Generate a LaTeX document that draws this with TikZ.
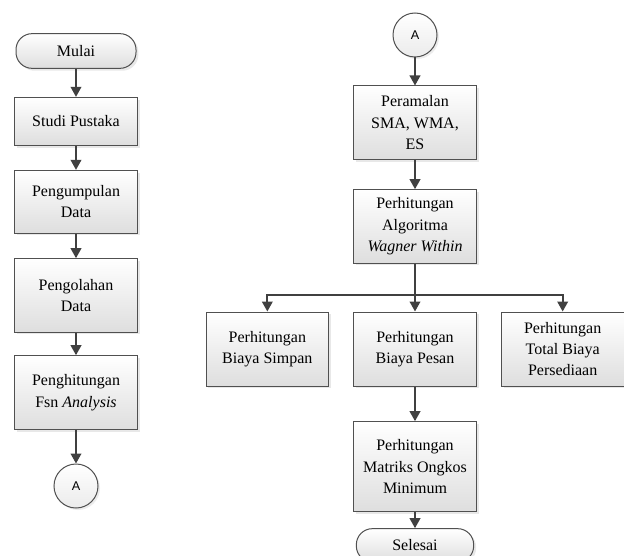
\documentclass[tikz,border=0pt]{standalone}
\usepackage{fontspec}
\setmainfont{Liberation Serif}
\setsansfont{Liberation Sans}
\usepackage{tikz}
\usetikzlibrary{arrows.meta, positioning, calc, shadows}
\definecolor{lineGray}{RGB}{64,64,64}
\definecolor{boxGray}{RGB}{80,80,80}
\definecolor{shadeGray}{RGB}{222,222,222}
\tikzset{
    % Process boxes
    procbox/.style={rectangle, draw=boxGray, line width=0.75pt, top color=white, bottom color=shadeGray,
                    drop shadow={shadow xshift=1.8pt, shadow yshift=-1.8pt, opacity=0.18},
                    minimum width=92pt, font=\fontsize{12}{16}\selectfont, align=center, inner sep=2pt},
    % Start / end terminators
    termbox/.style={rectangle, rounded corners=12pt, draw=boxGray, line width=0.75pt, top color=white, bottom color=shadeGray,
                    drop shadow={shadow xshift=1.8pt, shadow yshift=-1.8pt, opacity=0.18},
                    minimum width=90pt, minimum height=26pt, font=\fontsize{12}{16}\selectfont, align=center},
    % Off-page connectors
    connector/.style={circle, draw=boxGray, line width=0.75pt, top color=white, bottom color=shadeGray!60,
                      drop shadow={shadow xshift=1.5pt, shadow yshift=-1.5pt, opacity=0.15},
                      minimum size=33pt, inner sep=0pt, font=\sffamily\fontsize{9.5}{10}\selectfont},
    % Arrow style
    flowarrow/.style={-{Triangle[length=7.5pt, width=8pt]}, line width=1.3pt, color=lineGray},
}

\begin{document}
\begin{tikzpicture}[x=0.75pt, y=-0.75pt]
\useasboundingbox (0,0) rectangle (624,556);

% ============================================================
% Left column
% ============================================================
\node[termbox] (mulai) at (76,51) {Mulai};
\node[procbox, below=21pt of mulai, minimum height=36pt] (studi) {Studi Pustaka};
\node[procbox, below=18pt of studi, minimum height=47pt] (kumpul) {Pengumpulan\\Data};
\node[procbox, below=18.5pt of kumpul, minimum height=55pt] (olah) {Pengolahan\\Data};
\node[procbox, below=17pt of olah, minimum height=55.5pt] (hitung) {Penghitungan\\Fsn \textit{Analysis}};
\node[connector, below=25pt of hitung] (conA) {A};

\draw[flowarrow] (mulai) -- (studi);
\draw[flowarrow] (studi) -- (kumpul);
\draw[flowarrow] (kumpul) -- (olah);
\draw[flowarrow] (olah) -- (hitung);
\draw[flowarrow] (hitung) -- (conA);

% ============================================================
% Right column
% ============================================================
\node[connector] (conB) at (415,35) {A};
\node[procbox, below=21pt of conB, minimum height=55pt] (ramal) {Peramalan\\SMA, WMA,\\ES};
\node[procbox, below=22pt of ramal, minimum height=55pt] (algo) {Perhitungan\\Algoritma\\\textit{Wagner Within}};

% Three calculation boxes
\node[procbox, below=36pt of algo, minimum height=55.5pt] (pesan) {Perhitungan\\Biaya Pesan};
\node[procbox, left=18pt of pesan, minimum height=55.5pt] (simpan) {Perhitungan\\Biaya Simpan};
\node[procbox, right=18pt of pesan, minimum height=55.5pt] (total) {Perhitungan\\Total Biaya\\Persediaan};

\node[procbox, below=26pt of pesan, minimum height=67.5pt] (matriks) {Perhitungan\\Matriks Ongkos\\Minimum};
\node[termbox, below=12pt of matriks, minimum width=88pt, minimum height=25pt] (selesai) {Selesai};

\draw[flowarrow] (conB) -- (ramal);
\draw[flowarrow] (ramal) -- (algo);
\coordinate (split) at ($(algo.south)!0.65!(pesan.north)$);
\draw[flowarrow] (algo) -- (pesan);
\draw[flowarrow] (split) -| (simpan.north);
\draw[flowarrow] (split) -| (total.north);
\draw[flowarrow] (pesan) -- (matriks);
\draw[flowarrow] (matriks) -- (selesai);

\end{tikzpicture}
\end{document}
